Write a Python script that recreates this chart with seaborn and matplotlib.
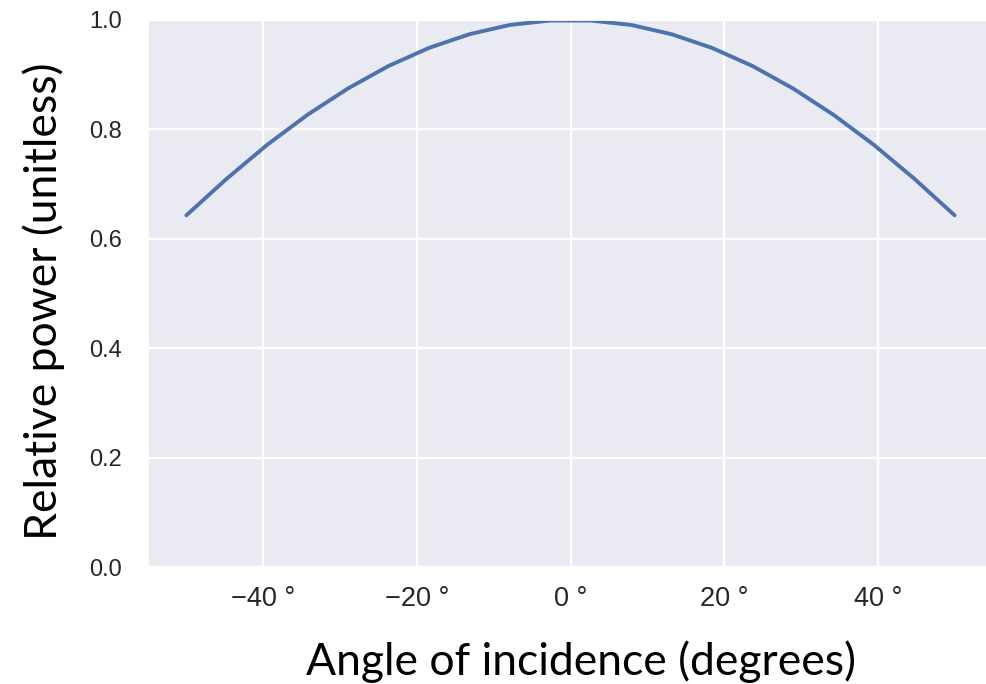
import matplotlib
matplotlib.use("Agg")
import matplotlib.pyplot as plt
import seaborn as sns
import pandas as pd
from matplotlib.ticker import FixedLocator, FixedFormatter

# Data (20 evenly spaced angles between -50 and 50 degrees)
angles = [-50.0, -44.74, -39.47, -34.21, -28.95, -23.68, -18.42, -13.16, -7.89, -2.63,
          2.63, 7.89, 13.16, 18.42, 23.68, 28.95, 34.21, 39.47, 44.74, 50.0]
power = [0.643, 0.710, 0.772, 0.827, 0.875, 0.916, 0.949, 0.974, 0.991, 0.999,
         0.999, 0.991, 0.974, 0.949, 0.916, 0.875, 0.827, 0.772, 0.710, 0.643]
xtick_values = [-40, -20, 0, 20, 40]
xtick_labels = ["\u221240 °", "\u221220 °", "0 °", "20 °", "40 °"]
ytick_values = [0.0, 0.2, 0.4, 0.6, 0.8, 1.0]

sns.set_theme(style="darkgrid")
plt.rcParams["font.family"] = ["Liberation Sans", "DejaVu Sans"]

df = pd.DataFrame({"angle": angles, "power": power})

fig = plt.figure(figsize=(9.86, 6.84), dpi=100)
ax = fig.add_axes([148 / 986, 1 - 567 / 684, 845 / 986, (567 - 20) / 684])

sns.lineplot(data=df, x="angle", y="power", ax=ax, color="#4c72b0", linewidth=2.8)

ax.set_xlim(-55, 55)
ax.set_ylim(0, 1.0)
ax.xaxis.set_major_locator(FixedLocator(xtick_values))
ax.xaxis.set_major_formatter(FixedFormatter(xtick_labels))
ax.yaxis.set_major_locator(FixedLocator(ytick_values))
ax.set_yticklabels([f"{v:.1f}" for v in ytick_values])
ax.tick_params(axis="y", labelsize=17, pad=13, colors="#262626")
ax.tick_params(axis="x", labelsize=19.5, pad=8, colors="#262626")
for gl in ax.get_xgridlines() + ax.get_ygridlines():
    gl.set_linewidth(1.6)

ax.set_xlabel("Angle of incidence (degrees)", fontsize=32, family="Lato", labelpad=20, color="black")
ax.set_ylabel("Relative power (unitless)", fontsize=32, family="Lato", labelpad=17, color="black")
ax.xaxis.label.set_x(0.512)
ax.yaxis.label.set_y(0.486)

fig.savefig("out.png", dpi=100)
